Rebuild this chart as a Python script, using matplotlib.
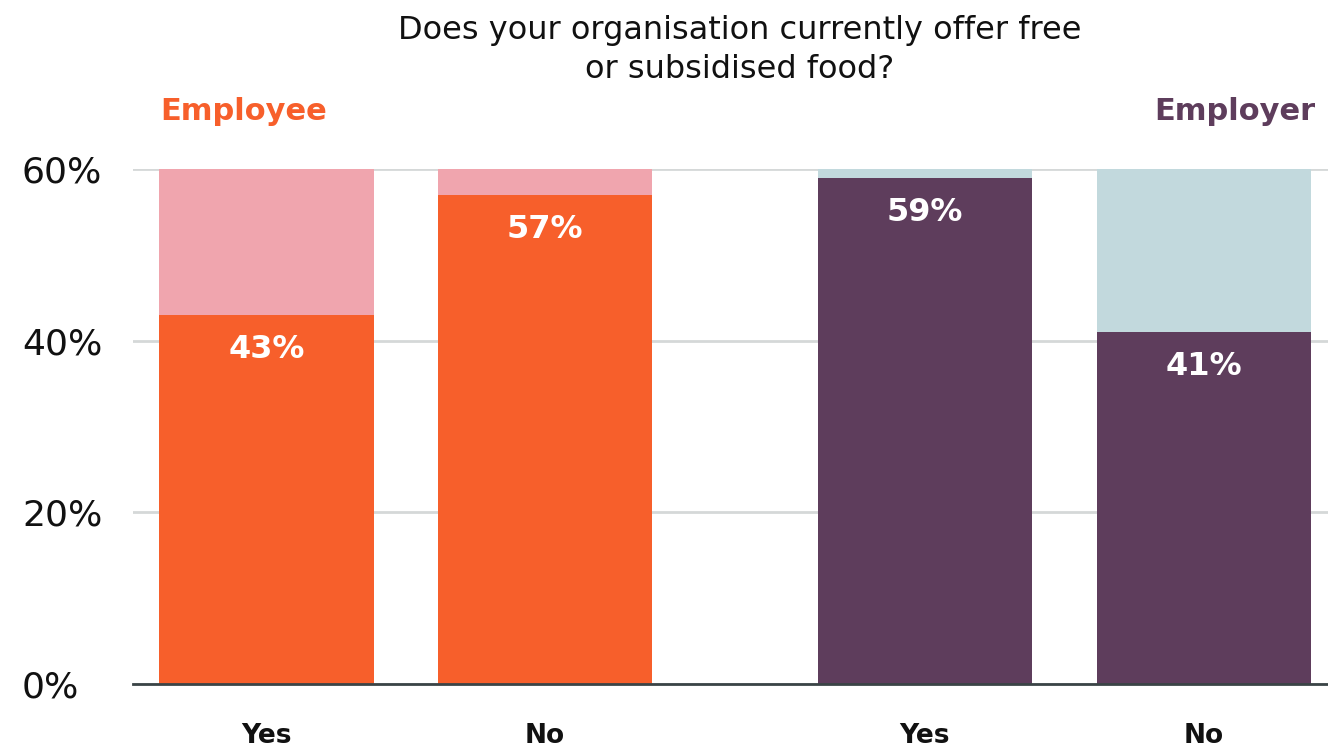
import matplotlib.pyplot as plt

plt.rcParams['font.family'] = ['DejaVu Sans']

# survey answers, share of respondents (%)
answers = ['Yes', 'No', 'Yes', 'No']
groups = ['Employee', 'Employee', 'Employer', 'Employer']
values = [43, 57, 59, 41]
positions = [0, 1, 2.364, 3.366]
axis_max = 60
yticks = [0, 20, 40, 60]

front = {'Employee': '#F75F2B', 'Employer': '#5E3D5C'}
back = {'Employee': '#F0A5AE', 'Employer': '#C2D9DD'}

fig = plt.figure(figsize=(13.28, 7.49), dpi=100)
ax = fig.add_axes([133 / 1328, 65 / 749, 1 - 133 / 1328, 515 / 749])

for x, v, g in zip(positions, values, groups):
    ax.bar(x, axis_max, width=0.77, color=back[g], zorder=2)
    ax.bar(x, v, width=0.77, color=front[g], zorder=3)
    ax.annotate(f'{v}%', (x, v), xytext=(0, -25), textcoords='offset points',
                ha='center', va='center', color='white', fontsize=23,
                fontweight='bold', zorder=4)

ax.set_xlim(-0.479, 3.811)
ax.set_ylim(0, axis_max)
ax.set_yticks(yticks)
ax.set_yticklabels([f'{t}%' for t in yticks], fontsize=26, color='#111111',
                   ha='left')
ax.set_xticks(positions)
ax.set_xticklabels(answers, fontsize=19, fontweight='bold', color='#111111')
ax.tick_params(axis='y', length=0, pad=80)
ax.tick_params(axis='x', length=0, pad=28)

ax.grid(axis='y', color='#D5D8D8', linewidth=2, zorder=0)
ax.set_axisbelow(True)
for s in ['top', 'right', 'left']:
    ax.spines[s].set_visible(False)
ax.spines['bottom'].set_color('#3A4446')
ax.spines['bottom'].set_linewidth(2)
ax.spines['bottom'].set_zorder(5)

fig.text(740 / 1328, 1 - 50 / 749,
         'Does your organisation currently offer free\nor subsidised food?',
         ha='center', va='center', fontsize=23, color='#111111', linespacing=1.3)
fig.text(160 / 1328, 1 - 111 / 749, 'Employee', ha='left', va='center',
         fontsize=22, fontweight='bold', color=front['Employee'])
fig.text(1315 / 1328, 1 - 111 / 749, 'Employer', ha='right', va='center',
         fontsize=22, fontweight='bold', color=front['Employer'])

fig.savefig('out.png', dpi=100)
